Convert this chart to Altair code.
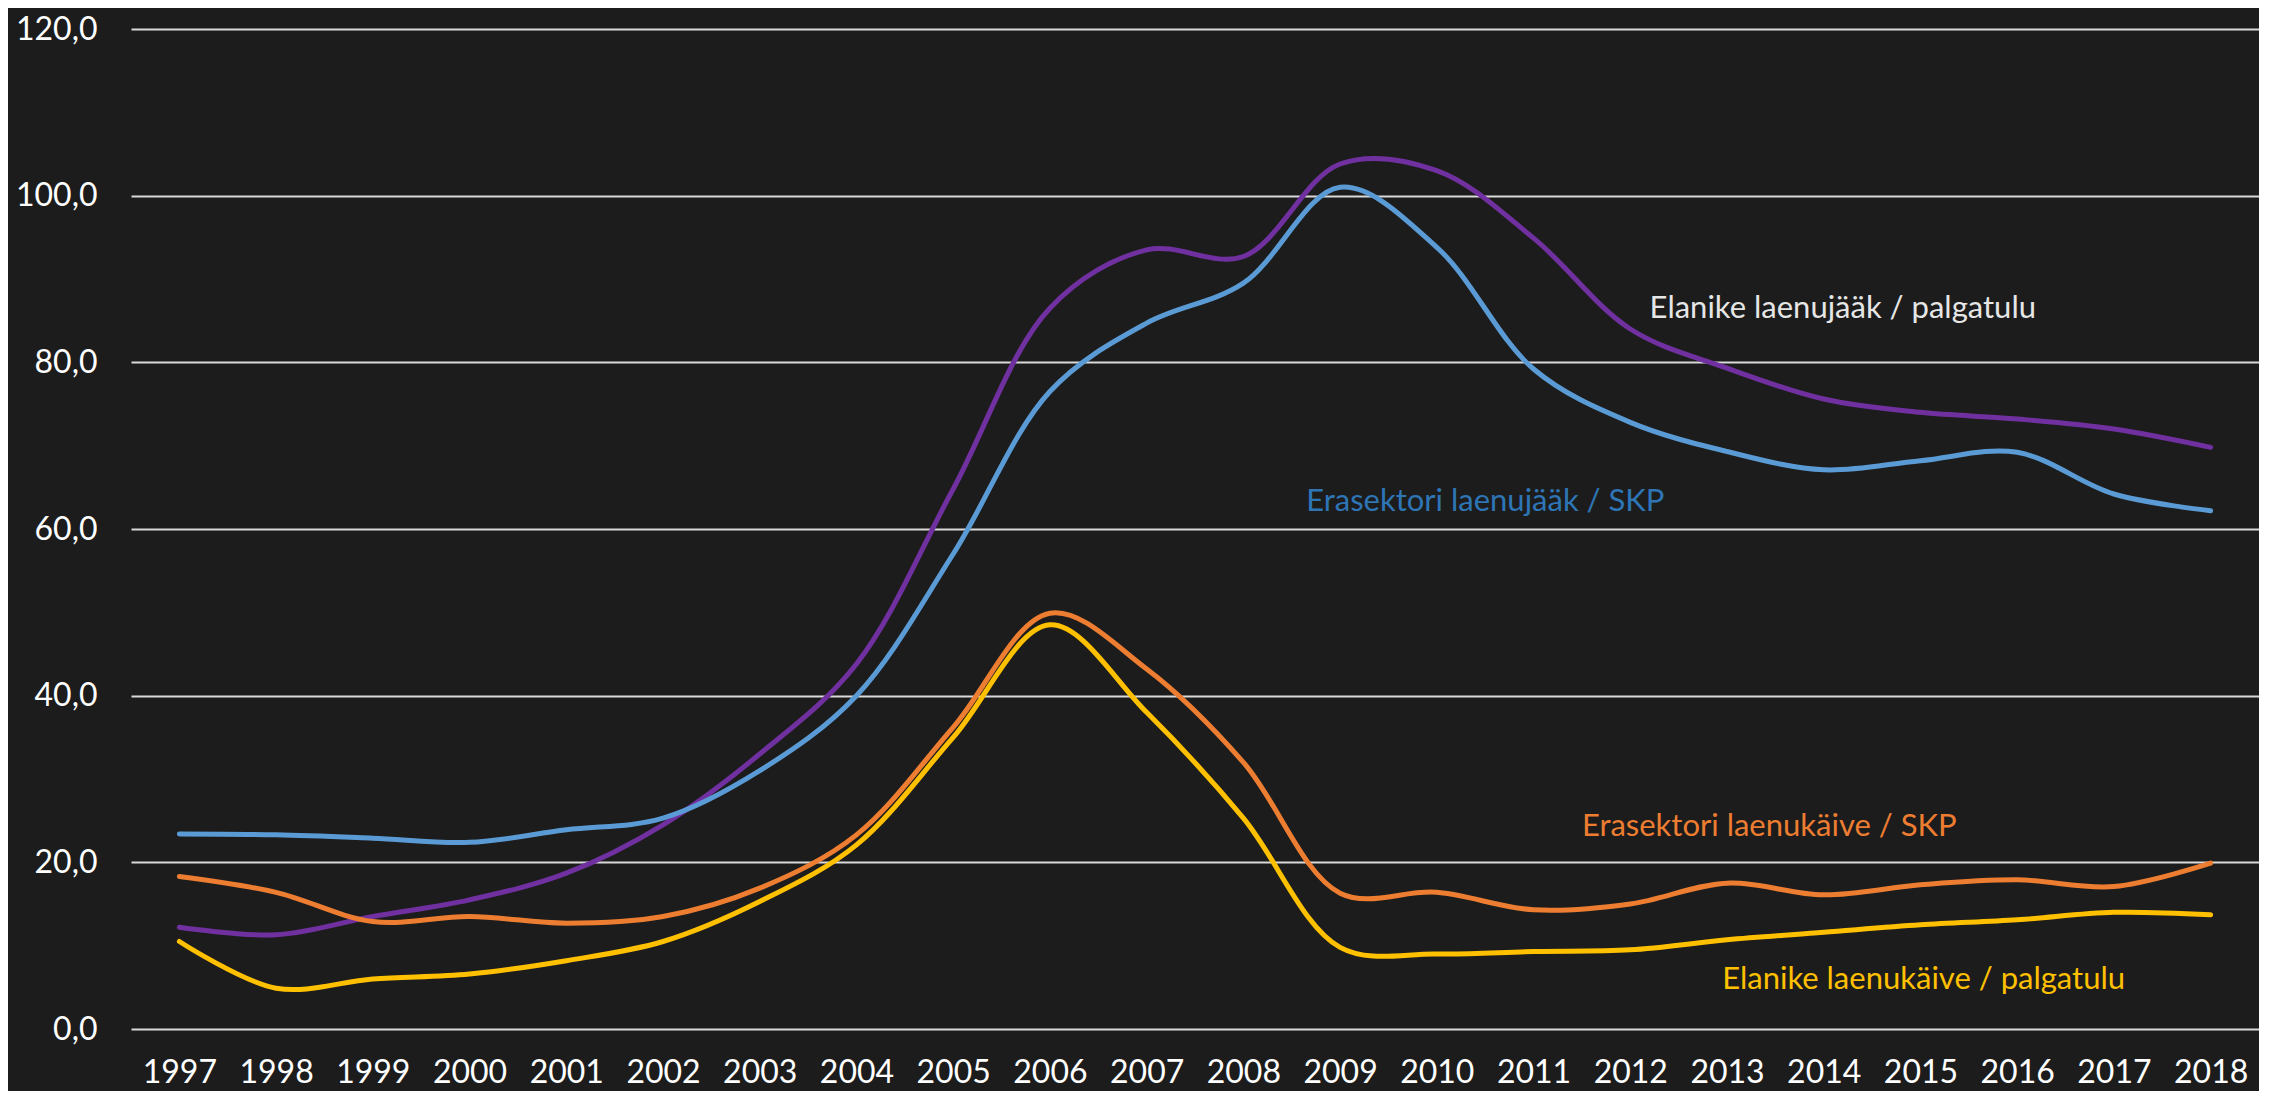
import altair as alt
import pandas as pd

years = list(range(1997, 2019))

series_names = [
    "Elanike laenujääk / palgatulu",
    "Erasektori laenujääk / SKP",
    "Erasektori laenukäive / SKP",
    "Elanike laenukäive / palgatulu",
]

elanike_laenujaak = [12.2, 11.3, 13.5, 15.5, 18.7, 24.5, 33.0, 43.8, 64.8, 86.5, 93.5,
                     92.7, 103.8, 103.0, 94.9, 84.0, 79.3, 75.6, 74.0, 73.2, 72.0, 69.8]
erasektori_laenujaak = [23.4, 23.3, 22.9, 22.4, 23.9, 25.3, 31.0, 40.0, 57.0, 76.5, 84.7,
                        89.5, 101.0, 93.8, 79.2, 72.8, 69.3, 67.1, 68.2, 69.2, 64.2, 62.2]
erasektori_laenukaive = [18.3, 16.4, 12.9, 13.5, 12.7, 13.5, 16.9, 23.3, 36.2, 49.9, 43.2,
                         32.0, 16.3, 16.4, 14.3, 15.0, 17.5, 16.1, 17.3, 17.9, 17.1, 19.9]
elanike_laenukaive = [10.5, 4.9, 6.0, 6.6, 8.2, 10.5, 15.3, 22.1, 35.0, 48.5, 38.0,
                      25.3, 9.8, 9.0, 9.3, 9.5, 10.7, 11.6, 12.5, 13.1, 14.0, 13.7]

y_ticks = [0, 20, 40, 60, 80, 100, 120]

line_colors = ["#7030a0", "#5b9bd5", "#ed7d31", "#ffc000"]
label_colors = ["#e6e6e6", "#2e75b6", "#ed7d31", "#ffc000"]
label_x = [2012.2, 2008.65, 2011.5, 2012.95]
label_y = [86.4, 63.2, 24.3, 5.9]

all_series = [elanike_laenujaak, erasektori_laenujaak, erasektori_laenukaive, elanike_laenukaive]
rows = []
for name, vals in zip(series_names, all_series):
    for yr, v in zip(years, vals):
        rows.append({"series": name, "year": yr, "value": v})
df = pd.DataFrame(rows)

labels = pd.DataFrame({"series": series_names, "x": label_x, "y": label_y})

FONT = "Lato"
x_scale = alt.Scale(domain=[1996.5, 2018.5], nice=False, zero=False)
y_scale = alt.Scale(domain=[0, 120], nice=False, zero=True)

lines = alt.Chart(df).mark_line(interpolate="catmull-rom", strokeWidth=5, strokeCap="round").encode(
    x=alt.X("year:Q", scale=x_scale,
            axis=alt.Axis(values=years, format="d", title=None, grid=False, domain=False,
                          ticks=False, labelColor="#ffffff", labelFontSize=32, labelFont=FONT,
                          labelPadding=28, labelFlush=False, labelOverlap=False)),
    y=alt.Y("value:Q", scale=y_scale,
            axis=alt.Axis(values=y_ticks, title=None, grid=True, gridColor="#d9d9d9",
                          gridWidth=2, domain=False, ticks=False,
                          labelExpr="replace(format(datum.value, '.1f'), '.', ',')",
                          labelFontSize=32, labelFont=FONT, labelColor="#ffffff",
                          labelPadding=34)),
    color=alt.Color("series:N", scale=alt.Scale(domain=series_names, range=line_colors), legend=None),
)

texts = alt.Chart(labels).mark_text(align="left", baseline="middle", fontSize=31, font=FONT).encode(
    x=alt.X("x:Q", scale=x_scale),
    y=alt.Y("y:Q", scale=y_scale),
    text="series:N",
    fill=alt.Fill("series:N", scale=alt.Scale(domain=series_names, range=label_colors), legend=None),
)

chart = alt.layer(lines, texts).properties(
    width=2128,
    height=1000,
    autosize=alt.AutoSizeParams(type="none"),
    padding={"left": 123, "top": 21, "right": 0, "bottom": 62},
    background="#1c1c1c",
).configure_view(stroke=None)

chart.save("out.html", embed_options={"renderer": "svg", "actions": False})
